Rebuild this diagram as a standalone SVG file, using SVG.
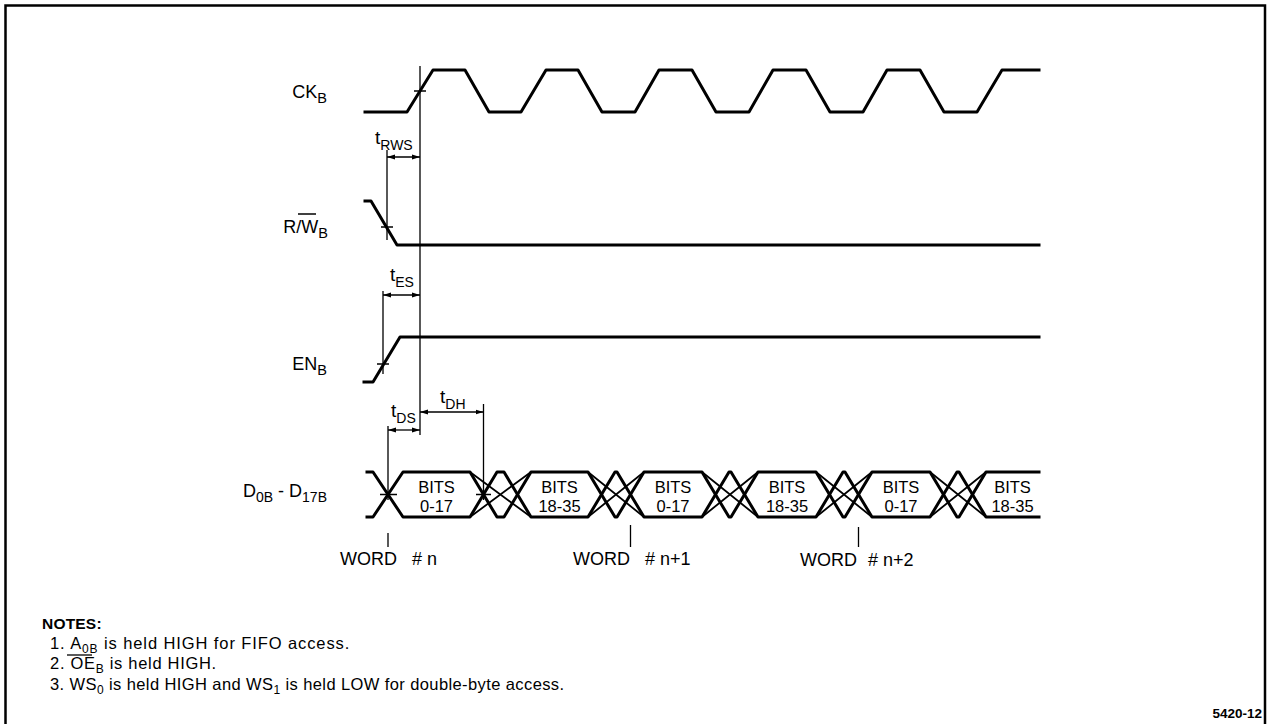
<svg xmlns="http://www.w3.org/2000/svg" width="1270" height="724" viewBox="0 0 1270 724">
<style>
.w{stroke:#000;stroke-width:3;fill:none;stroke-linejoin:round;stroke-linecap:square}
.h{stroke:#000;stroke-width:1.8;fill:none}
.e{stroke:#000;stroke-width:1.3;fill:none}
.d{stroke:#000;stroke-width:1.3;fill:none;marker-start:url(#ah);marker-end:url(#ah)}
text{font-family:"Liberation Sans",Arial,Helvetica,sans-serif;fill:#000}
.lb{font-size:18px;text-anchor:end}
.tm{font-size:19px}
.bt{font-size:16.5px;text-anchor:middle}
.wd{font-size:18px}
.nt{font-size:16.5px}
</style>
<defs>
<marker id="ah" markerUnits="userSpaceOnUse" markerWidth="9" markerHeight="6" refX="8" refY="3" orient="auto-start-reverse"><path d="M0,0.5 L8,3 L0,5.5 z" fill="#000"/></marker>
</defs>
<rect width="1270" height="724" fill="#fff"/>
<path d="M5.5,724 V5.5 H1265 V724" fill="none" stroke="#000" stroke-width="2.5"/>

<g id="labels">
<text class="lb" x="327" y="98">CK<tspan font-size="14.5" dy="5">B</tspan></text>
<text class="lb" x="328" y="233">R/W<tspan font-size="14.5" dy="5">B</tspan></text>
<line x1="298" y1="214" x2="316" y2="214" stroke="#000" stroke-width="1.5"/>
<text class="lb" x="327" y="370">EN<tspan font-size="14.5" dy="5">B</tspan></text>
<text class="lb" x="327" y="497">D<tspan font-size="14" dy="5">0B</tspan><tspan dy="-5"> - D</tspan><tspan font-size="14" dy="5">17B</tspan></text>
</g>

<g id="ck">
<path class="w" d="M365,112 H407 L433,70 H465 L489,112 H521 L546,70 H578 L602,112 H635 L659,70 H692 L716,112 H749 L773,70 H806 L830,112 H863 L887,70 H920 L944,112 H977 L1002,70 H1039"/>
</g>

<g id="rw">
<path class="w" d="M365,201 H371 L397,245 H1039"/>
</g>

<g id="en">
<path class="w" d="M364,382 H373 L400,337 H1039"/>
</g>

<g id="data">
<path class="w" d="M367,472 H373 L403,517 H470 L497,472 H504 L531,517 H588 L615,472 H617 L644,517 H702 L729,472 H731 L758,517 H816 L843,472 H845 L872,517 H930 L957,472 H959 L986,517 H1039"/>
<path class="w" d="M367,517 H373 L403,472 H470 L497,517 H504 L531,472 H588 L615,517 H617 L644,472 H702 L729,517 H731 L758,472 H816 L843,517 H845 L872,472 H930 L957,517 H959 L986,472 H1039"/>
<path class="h" d="M470,472 L531,517 M470,517 L531,472 M588,472 L644,517 M588,517 L644,472 M702,472 L758,517 M702,517 L758,472 M816,472 L872,517 M816,517 L872,472 M930,472 L986,517 M930,517 L986,472"/>
<text class="bt" x="436.5" y="493">BITS</text><text class="bt" x="436.5" y="512">0-17</text>
<text class="bt" x="559.5" y="493">BITS</text><text class="bt" x="559.5" y="512">18-35</text>
<text class="bt" x="673" y="493">BITS</text><text class="bt" x="673" y="512">0-17</text>
<text class="bt" x="787" y="493">BITS</text><text class="bt" x="787" y="512">18-35</text>
<text class="bt" x="901" y="493">BITS</text><text class="bt" x="901" y="512">0-17</text>
<text class="bt" x="1012.5" y="493">BITS</text><text class="bt" x="1012.5" y="512">18-35</text>
</g>

<g id="timing">
<path class="e" d="M420,66 V435 M414,91 H426"/>
<path class="e" d="M387,150 V240 M381,227 H393"/>
<path class="e" d="M383,291 V374 M377,364 H389"/>
<path class="e" d="M388,426 V500 M380,494.5 H397"/>
<path class="e" d="M483.5,404 V500 M476,494.5 H491"/>
<path class="d" d="M387,157 H420"/>
<path class="d" d="M383,295 H420"/>
<path class="d" d="M388,430 H420"/>
<path class="d" d="M420,412 H483.5"/>
<text class="tm" x="375" y="144">t<tspan font-size="14" dy="6">RWS</tspan></text>
<text class="tm" x="390" y="281">t<tspan font-size="14" dy="6">ES</tspan></text>
<text class="tm" x="391" y="417">t<tspan font-size="14" dy="6">DS</tspan></text>
<text class="tm" x="440" y="403">t<tspan font-size="14" dy="6">DH</tspan></text>
<path class="e" d="M388,533 V547 M630.5,525 V547 M858.5,527 V547"/>
</g>

<g id="words">
<text class="wd" x="340" y="565">WORD</text><text class="wd" x="412" y="565"># n</text>
<text class="wd" x="573" y="565">WORD</text><text class="wd" x="645" y="565"># n+1</text>
<text class="wd" x="800" y="566">WORD</text><text class="wd" x="868" y="566"># n+2</text>
</g>

<g id="notes">
<text x="42" y="629" font-size="15.5" font-weight="bold" letter-spacing="0.2">NOTES:</text>
<text class="nt" x="50" y="649" letter-spacing="0.9">1. A<tspan font-size="12" dy="4">0B</tspan><tspan dy="-4"> is held HIGH for FIFO access.</tspan></text>
<text class="nt" x="50" y="669" letter-spacing="0.7">2. OE<tspan font-size="12" dy="4">B</tspan><tspan dy="-4"> is held HIGH.</tspan></text>
<line x1="67" y1="655" x2="92" y2="655" stroke="#000" stroke-width="1.3"/>
<text class="nt" x="50" y="690" letter-spacing="0.4">3. WS<tspan font-size="12" dy="4">0</tspan><tspan dy="-4"> is held HIGH and WS</tspan><tspan font-size="12" dy="4">1</tspan><tspan dy="-4"> is held LOW for double-byte access.</tspan></text>
<text x="1262" y="718" font-size="13.5" font-weight="bold" text-anchor="end">5420-12</text>
</g>
</svg>
